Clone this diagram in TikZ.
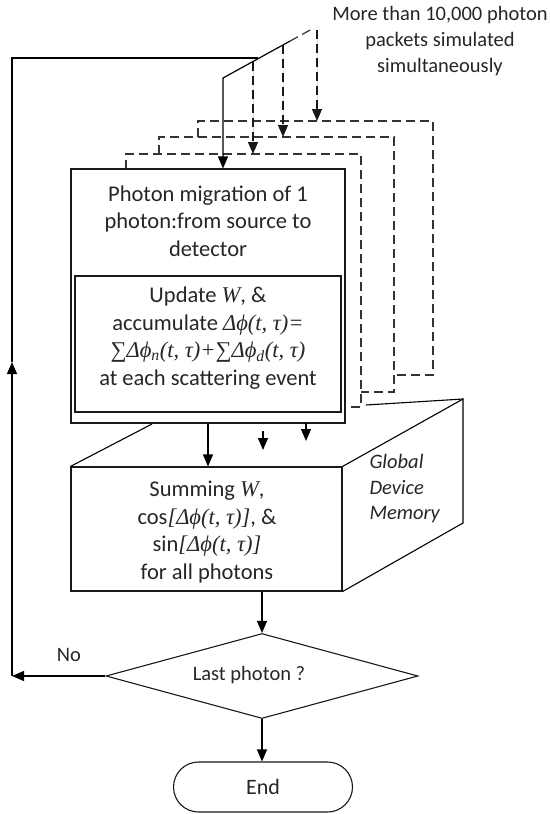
\documentclass[tikz,border=0pt]{standalone}
\usepackage{fontspec}
\setmainfont{Carlito}
\newfontfamily\tms{Liberation Serif}
\usetikzlibrary{shapes.geometric,arrows.meta}
\newcommand{\mi}[1]{{\tms\itshape #1}}
\begin{document}
\begin{tikzpicture}[x=1pt,y=-1pt,line width=1.1pt,
  txt/.style={text=black!85,inner sep=0pt,align=center},
  big/.style={font=\fontsize{22.5}{27.5}\selectfont},
  small/.style={font=\fontsize{20.5}{26}\selectfont},
  box/.style={draw=black!90,line width=1.1pt,inner sep=0pt},
  arr/.style={-{Triangle[length=12pt,width=10pt]},line width=1.2pt},
  dsh/.style={dash pattern=on 9pt off 5pt,line width=1.2pt,draw=black!80}]
\useasboundingbox (0,0) rectangle (549,814);

% dashed stacked boxes
\draw[dsh] (126,169) -- (126,154) -- (361,154) -- (361,407) -- (345,407);
\draw[dsh] (159,154) -- (159,137) -- (394,137) -- (394,392) -- (361,392);
\draw[dsh] (198,137) -- (198,121) -- (433,121) -- (433,375) -- (394,375);

% main box
\node[box,minimum width=274pt,minimum height=254pt] (main) at (208,296) {};
\node[txt,big] (mtitle) at (208,221) {Photon migration of 1\\photon:from source to\\detector};
\node[box,minimum width=266pt,minimum height=136pt] (inner) at (208,344) {};
\node[txt,big] (itext) at (208,338) {Update \mi{W}, \&\\accumulate \mi{Δϕ(t, τ)=}\\\mi{∑Δϕ\textsubscript{n}(t, τ)+∑Δϕ\textsubscript{d}(t, τ)}\\at each scattering event};

% memory 3D box
\node[box,minimum width=271pt,minimum height=124pt] (mem) at (206.5,529) {};
\node[txt,big] (memtext) at (207,532) {Summing \mi{W},\\cos\mi{[Δϕ(t, τ)]}, \&\\sin\mi{[Δϕ(t, τ)]}\\for all photons};
\coordinate (btl) at (152,424);
\coordinate (btr) at (463,399);
\coordinate (bbr) at (463,523);
\coordinate (bvis) at (366,405);
\draw (mem.north west) -- (btl);
\draw (mem.north east) -- (btr) -- (bbr) -- (mem.south east);
\draw (bvis) -- (btr);
\node[txt,anchor=west,align=left,font=\fontsize{20.5}{25.5}\selectfont\itshape] (gdm) at (369,489) {Global\\Device\\Memory};

% decision and end
\node[draw=black!90,diamond,minimum width=312pt,minimum height=85pt,inner sep=0pt] (dia) at (262,676) {};
\node[txt,small] (diat) at (249,675) {Last photon ?};
\node[draw=black!90,rounded corners=25pt,minimum width=179pt,minimum height=50pt,inner sep=0pt,text=black!85,font=\fontsize{22}{26}\selectfont] (end) at (263,787) {End};

% top note
\node[txt,small] (note) at (440,41) {More than 10,000 photon\\packets simulated\\simultaneously};
\node[txt,small] (no) at (69,655) {No};

% diagonal feeder
\coordinate (dc) at (223,78);
\coordinate (ds) at (290,41.1);
\coordinate (dt) at (312,29);
\draw[arr] (ds) -- (dc) -- (dc |- main.north);
\draw[dsh] (ds) -- (dt);
\coordinate (p1) at (253,61.5);
\coordinate (p2) at (283,45);
\coordinate (p3) at (317,30);
\coordinate (q1) at (253,154);
\coordinate (q2) at (283,137);
\coordinate (q3) at (317,121);
\draw[arr,dsh,draw=black!90,fill=black!90] (p1) -- (q1);
\draw[arr,dsh,draw=black!90,fill=black!90] (p2) -- (q2);
\draw[arr,dsh,draw=black!90,fill=black!90] (p3) -- (q3);

% loop back
\coordinate (lc) at (12,676);
\coordinate (lm) at (12,362);
\coordinate (ltop) at (12,58);
\coordinate (dj) at (258,58);
\draw[arr] (dia.west) -- (lc);
\draw[arr] (lc) -- (lm);
\draw (lm) -- (ltop) -- (dj);

% flow arrows
\draw[arr] (main.south) -- (main.south |- mem.north);
\coordinate (s2a) at (263,431);
\coordinate (s2b) at (263,450);
\coordinate (s3a) at (306,423);
\coordinate (s3b) at (306,441);
\draw[arr] (s2a) -- (s2b);
\draw[arr] (s3a) -- (s3b);
\draw[arr] (mem.south -| dia.north) -- (dia.north);
\draw[arr] (dia.south) -- (end.north -| dia.south);
\end{tikzpicture}
\end{document}
